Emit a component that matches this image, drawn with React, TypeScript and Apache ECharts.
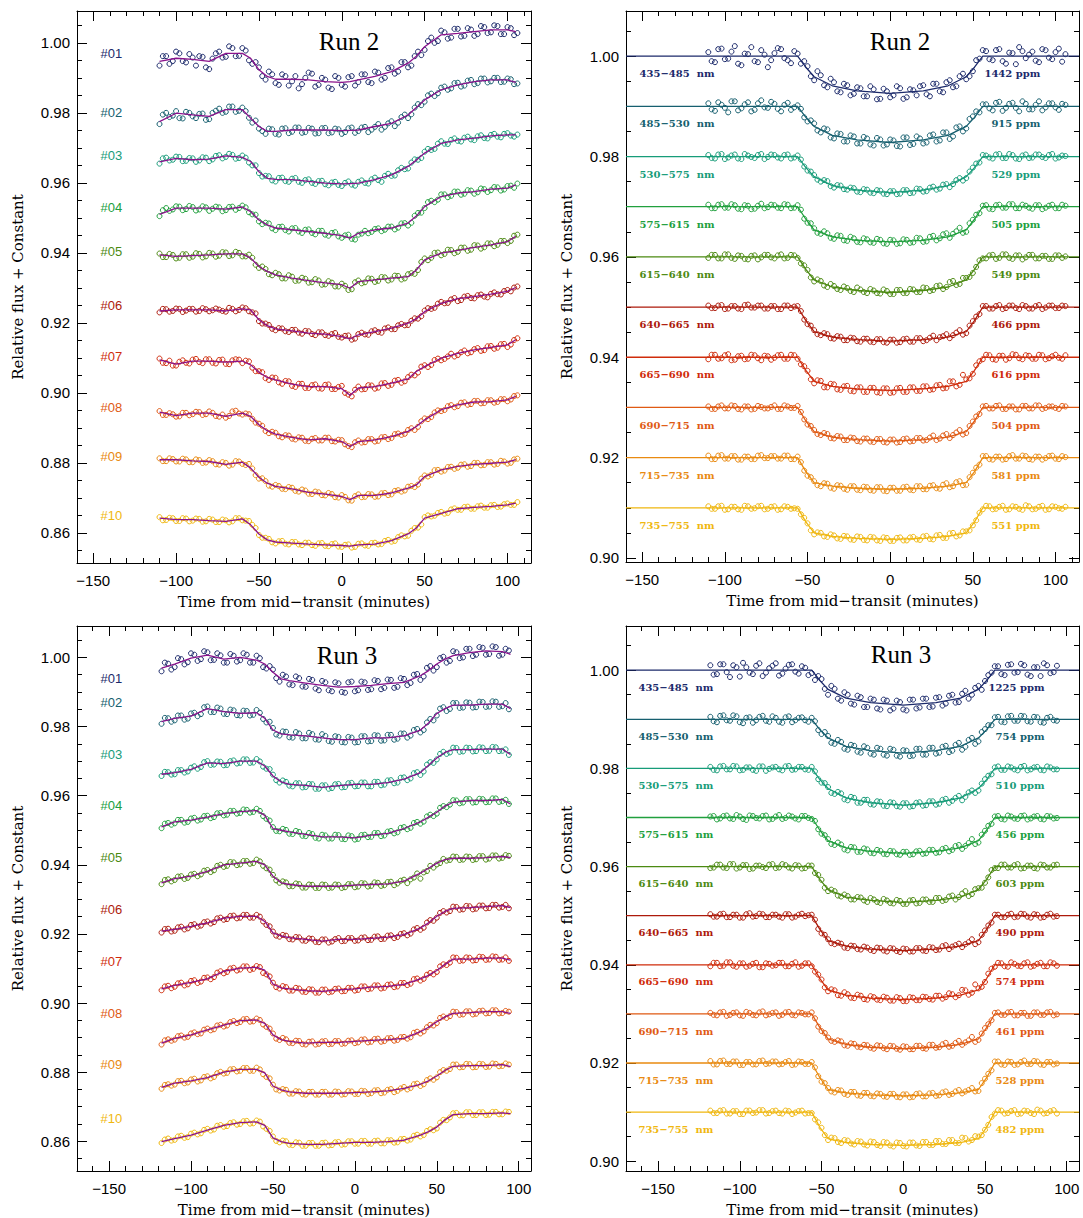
import React, { useEffect, useRef } from "react";
import * as echarts from "echarts";

// ---------- colours & labels ----------
const COLORS = ["#1c2a6b", "#165f6f", "#179c79", "#21a03e", "#4c8a12", "#ad1a0b", "#d02c0b", "#e05a13", "#e98a11", "#f0b70f"];
const PURPLE = "#8a128c";
const CURVE_NAMES = ["#01", "#02", "#03", "#04", "#05", "#06", "#07", "#08", "#09", "#10"];
const WAVE_BINS = ["435\u2212485  nm", "485\u2212530  nm", "530\u2212575  nm", "575\u2212615  nm", "615\u2212640  nm", "640\u2212665  nm", "665\u2212690  nm", "690\u2212715  nm", "715\u2212735  nm", "735\u2212755  nm"];
const PPM_RUN2 = [1442, 915, 529, 505, 549, 466, 616, 504, 581, 551];
const PPM_RUN3 = [1225, 754, 510, 456, 603, 490, 574, 461, 528, 482];
const BASELINES = [1.0, 0.99, 0.98, 0.97, 0.96, 0.95, 0.94, 0.93, 0.92, 0.91];

// ---------- ticks ----------
const X_MAJOR = [-150, -100, -50, 0, 50, 100];
const X_MINOR = [-160, -150, -140, -130, -120, -110, -100, -90, -80, -70, -60, -50, -40, -30, -20, -10, 0, 10, 20, 30, 40, 50, 60, 70, 80, 90, 100, 110];
const Y_MAJOR_LEFT = [0.86, 0.88, 0.9, 0.92, 0.94, 0.96, 0.98, 1.0];
const Y_MINOR_LEFT = [0.855, 0.86, 0.865, 0.87, 0.875, 0.88, 0.885, 0.89, 0.895, 0.9, 0.905, 0.91, 0.915, 0.92, 0.925, 0.93, 0.935, 0.94, 0.945, 0.95, 0.955, 0.96, 0.965, 0.97, 0.975, 0.98, 0.985, 0.99, 0.995, 1.0, 1.005];
const Y_MAJOR_RIGHT = [0.9, 0.92, 0.94, 0.96, 0.98, 1.0];
const Y_MINOR_RIGHT = [0.9, 0.905, 0.91, 0.915, 0.92, 0.925, 0.93, 0.935, 0.94, 0.945, 0.95, 0.955, 0.96, 0.965, 0.97, 0.975, 0.98, 0.985, 0.99, 0.995, 1.0, 1.005];

// ---------- time grids (minutes from mid-transit) ----------
const T_RUN2 = [-110, -106, -102, -98, -94, -90, -86, -82, -78, -74, -70, -66, -62, -58, -54, -50, -46, -42, -38, -34, -30, -26, -22, -18, -14, -10, -6, -2, 2, 6, 10, 14, 18, 22, 26, 30, 34, 38, 42, 46, 50, 54, 58, 62, 66, 70, 74, 78, 82, 86, 90, 94, 98, 102, 106];
const T_RUN2_B = [-108, -104, -100, -96, -92, -88, -84, -80, -76, -72, -68, -64, -60, -56, -52, -48, -44, -40, -36, -32, -28, -24, -20, -16, -12, -8, -4, 0, 4, 8, 12, 16, 20, 24, 28, 32, 36, 40, 44, 48, 52, 56, 60, 64, 68, 72, 76, 80, 84, 88, 92, 96, 100, 104];
const T_RUN3 = [-118, -114, -110, -106, -102, -98, -94, -90, -86, -82, -78, -74, -70, -66, -62, -58, -54, -50, -46, -42, -38, -34, -30, -26, -22, -18, -14, -10, -6, -2, 2, 6, 10, 14, 18, 22, 26, 30, 34, 38, 42, 46, 50, 54, 58, 62, 66, 70, 74, 78, 82, 86, 90, 94];
const T_RUN3_B = [-116, -112, -108, -104, -100, -96, -92, -88, -84, -80, -76, -72, -68, -64, -60, -56, -52, -48, -44, -40, -36, -32, -28, -24, -20, -16, -12, -8, -4, 0, 4, 8, 12, 16, 20, 24, 28, 32, 36, 40, 44, 48, 52, 56, 60, 64, 68, 72, 76, 80, 84, 88, 92];
const T_MODEL_RUN2_LEFT = [-110, -100, -90, -80, -70, -60, -55, -50, -45, -40, -30, -20, -10, 0, 5, 10, 20, 30, 40, 45, 50, 60, 70, 80, 90, 100, 105];
const T_MODEL_RUN3_LEFT = [-118, -110, -100, -90, -80, -70, -60, -55, -50, -45, -40, -30, -20, -10, 0, 10, 20, 30, 40, 45, 50, 55, 60, 70, 80, 90, 95];
const T_MODEL_RUN2_RIGHT = [-159.8, -56, -51, -46, -35, -20, 0, 20, 35, 46, 51, 56, 114.2];
const T_MODEL_RUN3_RIGHT = [-169.6, -56, -51, -46, -35, -20, 0, 20, 35, 46, 51, 56, 107.5];

// ---------- Run 2, raw light curves (flux x 1e4), on T_RUN2 ----------
const RUN2_RAW = [
  [9935, 9962, 9948, 9970, 9944, 9958, 9962, 9930, 9955, 9975, 9960, 9985, 9963, 9978, 9940, 9930, 9895, 9910, 9880, 9905, 9890, 9870, 9900, 9912, 9880, 9895, 9868, 9900, 9875, 9905, 9888, 9910, 9885, 9915, 9900, 9930, 9918, 9945, 9935, 9975, 9980, 10015, 10005, 10030, 10015, 10040, 10020, 10038, 10025, 10045, 10030, 10048, 10025, 10042, 10028],
  [9768, 9800, 9792, 9785, 9803, 9790, 9797, 9780, 9800, 9812, 9803, 9818, 9806, 9805, 9772, 9755, 9740, 9753, 9738, 9756, 9746, 9758, 9745, 9755, 9742, 9757, 9744, 9753, 9745, 9758, 9748, 9760, 9752, 9768, 9760, 9776, 9772, 9795, 9796, 9825, 9832, 9855, 9856, 9875, 9870, 9886, 9878, 9894, 9885, 9898, 9890, 9900, 9889, 9896, 9884],
  [9655, 9672, 9666, 9674, 9663, 9670, 9664, 9672, 9667, 9679, 9674, 9680, 9671, 9672, 9650, 9628, 9620, 9607, 9614, 9605, 9612, 9603, 9608, 9600, 9605, 9596, 9601, 9594, 9600, 9595, 9603, 9600, 9610, 9608, 9620, 9620, 9636, 9639, 9658, 9666, 9689, 9694, 9712, 9712, 9723, 9720, 9729, 9724, 9733, 9728, 9737, 9732, 9740, 9735, 9738],
  [9505, 9528, 9524, 9532, 9525, 9531, 9524, 9530, 9526, 9530, 9522, 9532, 9528, 9530, 9510, 9490, 9486, 9470, 9474, 9465, 9470, 9461, 9466, 9457, 9463, 9452, 9457, 9447, 9450, 9440, 9452, 9463, 9460, 9470, 9466, 9475, 9472, 9485, 9486, 9514, 9528, 9549, 9552, 9567, 9563, 9575, 9569, 9578, 9573, 9582, 9579, 9587, 9581, 9592, 9598],
  [9398, 9388, 9394, 9386, 9396, 9389, 9397, 9390, 9398, 9392, 9401, 9393, 9400, 9390, 9386, 9357, 9354, 9336, 9339, 9327, 9332, 9321, 9326, 9316, 9321, 9310, 9315, 9304, 9306, 9296, 9321, 9316, 9326, 9320, 9330, 9324, 9334, 9327, 9342, 9351, 9384, 9386, 9401, 9397, 9408, 9403, 9415, 9409, 9421, 9416, 9427, 9423, 9434, 9434, 9452],
  [9230, 9239, 9234, 9240, 9235, 9240, 9234, 9239, 9236, 9238, 9232, 9240, 9237, 9242, 9230, 9205, 9198, 9183, 9185, 9176, 9180, 9172, 9177, 9168, 9173, 9165, 9168, 9160, 9163, 9152, 9168, 9167, 9176, 9174, 9184, 9182, 9193, 9193, 9206, 9212, 9235, 9240, 9255, 9256, 9267, 9262, 9275, 9271, 9279, 9275, 9283, 9282, 9291, 9290, 9304],
  [9098, 9085, 9078, 9089, 9086, 9095, 9088, 9096, 9086, 9094, 9083, 9093, 9095, 9092, 9072, 9062, 9042, 9044, 9030, 9034, 9020, 9026, 9014, 9022, 9013, 9023, 9011, 9017, 9000, 8990, 9018, 9011, 9021, 9015, 9028, 9023, 9037, 9033, 9052, 9058, 9079, 9080, 9098, 9097, 9112, 9108, 9121, 9116, 9128, 9122, 9134, 9129, 9140, 9138, 9156],
  [8948, 8937, 8939, 8933, 8943, 8939, 8945, 8939, 8943, 8932, 8929, 8947, 8941, 8941, 8926, 8912, 8891, 8889, 8876, 8879, 8869, 8873, 8863, 8869, 8864, 8872, 8862, 8866, 8853, 8845, 8864, 8859, 8868, 8863, 8874, 8871, 8884, 8883, 8899, 8903, 8927, 8931, 8950, 8951, 8965, 8962, 8973, 8968, 8977, 8971, 8979, 8974, 8982, 8981, 8993],
  [8813, 8805, 8811, 8804, 8810, 8802, 8808, 8801, 8805, 8795, 8800, 8795, 8804, 8794, 8784, 8755, 8748, 8732, 8734, 8725, 8729, 8718, 8721, 8711, 8716, 8707, 8711, 8701, 8703, 8692, 8710, 8703, 8710, 8704, 8714, 8710, 8722, 8721, 8734, 8738, 8764, 8766, 8780, 8778, 8789, 8786, 8796, 8791, 8800, 8794, 8802, 8797, 8804, 8800, 8812],
  [8645, 8637, 8642, 8634, 8641, 8635, 8640, 8633, 8638, 8631, 8636, 8633, 8642, 8635, 8623, 8594, 8586, 8573, 8576, 8569, 8574, 8567, 8572, 8565, 8570, 8563, 8568, 8561, 8566, 8558, 8569, 8564, 8571, 8567, 8577, 8575, 8588, 8590, 8606, 8615, 8645, 8647, 8657, 8655, 8667, 8666, 8674, 8669, 8676, 8672, 8679, 8674, 8682, 8680, 8688],
];
// same curves, exposures on T_RUN2_B
const RUN2_RAW_B = [
  [9962, 9940, 9975, 9948, 9968, 9935, 9960, 9925, 9970, 9958, 9990, 9962, 9985, 9950, 9945, 9905, 9918, 9885, 9910, 9878, 9905, 9882, 9915, 9875, 9900, 9872, 9905, 9880, 9902, 9878, 9910, 9888, 9918, 9895, 9928, 9912, 9945, 9930, 9962, 9965, 10005, 10000, 10035, 10012, 10040, 10018, 10042, 10020, 10048, 10028, 10050, 10025, 10045, 10022],
  [9795, 9788, 9805, 9784, 9800, 9785, 9798, 9782, 9806, 9800, 9818, 9803, 9815, 9786, 9778, 9748, 9755, 9740, 9755, 9742, 9758, 9743, 9757, 9741, 9756, 9742, 9755, 9740, 9756, 9743, 9758, 9745, 9760, 9752, 9770, 9762, 9788, 9785, 9815, 9822, 9850, 9848, 9872, 9866, 9885, 9875, 9892, 9882, 9898, 9887, 9900, 9888, 9898, 9882],
  [9670, 9664, 9675, 9662, 9671, 9660, 9673, 9662, 9677, 9670, 9683, 9669, 9678, 9658, 9650, 9618, 9619, 9604, 9615, 9603, 9614, 9600, 9610, 9597, 9606, 9593, 9603, 9591, 9604, 9592, 9607, 9598, 9615, 9603, 9626, 9621, 9643, 9641, 9667, 9671, 9697, 9697, 9719, 9711, 9727, 9718, 9732, 9722, 9736, 9727, 9740, 9730, 9742, 9732],
  [9522, 9520, 9533, 9522, 9534, 9521, 9533, 9520, 9532, 9519, 9531, 9523, 9535, 9516, 9509, 9482, 9484, 9465, 9475, 9461, 9471, 9457, 9467, 9453, 9463, 9449, 9459, 9443, 9452, 9438, 9455, 9456, 9468, 9462, 9475, 9467, 9484, 9478, 9506, 9515, 9545, 9545, 9567, 9559, 9575, 9566, 9579, 9569, 9584, 9574, 9588, 9578, 9591, 9586],
  [9388, 9397, 9384, 9396, 9386, 9399, 9387, 9400, 9389, 9402, 9391, 9403, 9390, 9395, 9366, 9361, 9339, 9343, 9327, 9336, 9320, 9329, 9315, 9325, 9309, 9319, 9304, 9312, 9294, 9316, 9313, 9327, 9317, 9331, 9321, 9335, 9324, 9339, 9340, 9374, 9379, 9400, 9393, 9409, 9399, 9415, 9406, 9422, 9412, 9427, 9419, 9434, 9428, 9449],
  [9240, 9232, 9241, 9231, 9240, 9232, 9242, 9233, 9241, 9234, 9243, 9233, 9244, 9233, 9227, 9198, 9194, 9179, 9184, 9174, 9180, 9169, 9176, 9165, 9173, 9163, 9171, 9158, 9164, 9155, 9172, 9166, 9179, 9172, 9187, 9182, 9197, 9194, 9213, 9219, 9242, 9243, 9260, 9257, 9271, 9265, 9277, 9270, 9281, 9273, 9287, 9281, 9294, 9301],
  [9086, 9092, 9078, 9093, 9084, 9097, 9085, 9096, 9084, 9095, 9082, 9096, 9085, 9090, 9062, 9059, 9037, 9043, 9026, 9033, 9017, 9026, 9014, 9024, 9012, 9024, 9011, 9020, 8995, 9009, 9010, 9022, 9012, 9027, 9020, 9035, 9029, 9045, 9050, 9075, 9074, 9094, 9093, 9104, 9104, 9116, 9113, 9125, 9120, 9133, 9126, 9139, 9131, 9151],
  [8937, 8942, 8932, 8943, 8936, 8946, 8937, 8947, 8934, 8938, 8934, 8949, 8938, 8939, 8915, 8906, 8885, 8886, 8873, 8878, 8867, 8872, 8862, 8871, 8864, 8872, 8861, 8865, 8848, 8859, 8858, 8868, 8861, 8873, 8868, 8882, 8880, 8894, 8894, 8919, 8925, 8944, 8948, 8962, 8959, 8972, 8966, 8977, 8970, 8979, 8972, 8982, 8976, 8991],
  [8805, 8813, 8804, 8812, 8802, 8810, 8800, 8808, 8796, 8802, 8792, 8805, 8797, 8797, 8765, 8756, 8735, 8737, 8726, 8731, 8720, 8724, 8712, 8718, 8708, 8714, 8702, 8708, 8693, 8705, 8702, 8711, 8703, 8713, 8708, 8720, 8718, 8732, 8731, 8755, 8761, 8779, 8775, 8788, 8783, 8795, 8789, 8800, 8793, 8802, 8795, 8806, 8798, 8810],
  [8636, 8643, 8634, 8642, 8633, 8641, 8632, 8640, 8631, 8638, 8630, 8642, 8636, 8634, 8614, 8586, 8583, 8570, 8577, 8567, 8574, 8565, 8572, 8563, 8571, 8562, 8570, 8560, 8567, 8560, 8570, 8563, 8572, 8568, 8580, 8577, 8593, 8592, 8614, 8624, 8650, 8649, 8660, 8657, 8670, 8666, 8675, 8669, 8678, 8672, 8680, 8675, 8684, 8680],
];
// Run 2, systematics + transit model (flux x 1e4), on T_MODEL_RUN2_LEFT
const RUN2_RAW_MODEL = [
  [9947, 9956, 9953, 9947, 9970, 9970, 9956, 9923, 9904, 9896, 9896, 9894, 9889, 9887, 9889, 9894, 9904, 9918, 9942, 9962, 9989, 10023, 10027, 10032, 10037, 10037, 10032],
  [9775, 9799, 9794, 9790, 9809, 9809, 9785, 9761, 9747, 9747, 9751, 9751, 9751, 9749, 9750, 9751, 9761, 9770, 9794, 9815, 9837, 9866, 9880, 9889, 9894, 9894, 9887],
  [9660, 9670, 9666, 9668, 9677, 9673, 9661, 9632, 9613, 9610, 9609, 9604, 9599, 9597, 9598, 9599, 9609, 9623, 9647, 9665, 9685, 9713, 9723, 9728, 9734, 9737, 9737],
  [9510, 9528, 9528, 9528, 9525, 9531, 9518, 9494, 9480, 9471, 9466, 9461, 9456, 9449, 9442, 9456, 9466, 9471, 9485, 9505, 9532, 9561, 9571, 9575, 9582, 9585, 9594],
  [9394, 9390, 9392, 9394, 9397, 9397, 9385, 9361, 9347, 9337, 9328, 9321, 9314, 9309, 9299, 9318, 9323, 9328, 9332, 9351, 9380, 9399, 9407, 9416, 9423, 9432, 9447],
  [9234, 9237, 9237, 9237, 9234, 9240, 9237, 9209, 9192, 9183, 9177, 9171, 9168, 9161, 9154, 9166, 9175, 9185, 9199, 9212, 9232, 9256, 9269, 9275, 9282, 9290, 9301],
  [9094, 9082, 9091, 9091, 9088, 9091, 9080, 9059, 9044, 9037, 9025, 9018, 9018, 9012, 8993, 9014, 9018, 9028, 9040, 9061, 9075, 9099, 9113, 9123, 9130, 9137, 9152],
  [8945, 8935, 8942, 8942, 8933, 8942, 8933, 8909, 8892, 8882, 8873, 8866, 8869, 8861, 8847, 8861, 8866, 8875, 8890, 8904, 8923, 8952, 8966, 8974, 8975, 8980, 8990],
  [8809, 8809, 8806, 8804, 8796, 8802, 8785, 8759, 8742, 8733, 8726, 8716, 8711, 8704, 8695, 8707, 8707, 8714, 8728, 8737, 8761, 8780, 8790, 8796, 8799, 8802, 8809],
  [8642, 8638, 8638, 8635, 8633, 8640, 8623, 8597, 8580, 8574, 8571, 8568, 8566, 8564, 8562, 8566, 8568, 8578, 8597, 8614, 8642, 8656, 8669, 8673, 8676, 8680, 8685],
];
// Run 2, detrended light curves: offset from the constant (x 1e4)
const RUN2_DETRENDED = [
  [8, -12, 15, -5, 20, -18, 4, -10, 12, -22, 6, 14, -8, 10, -15, -20, -48, -38, -62, -52, -72, -58, -75, -64, -80, -66, -85, -70, -78, -64, -82, -68, -60, -76, -55, -70, -52, -62, -40, -46, -30, -5, 10, -8, 14, -15, 6, 18, -4, 9, -12, 12, -6, 15, 4],
  [6, -9, 3, -12, 10, -4, 8, -7, 12, -3, 5, -10, 7, -2, -5, -30, -34, -52, -46, -64, -55, -70, -60, -74, -64, -78, -66, -76, -68, -80, -62, -75, -64, -72, -56, -68, -52, -60, -40, -44, -20, -12, 4, -8, 9, -3, 7, -10, 5, -6, 10, -2, 6, -7, 3],
  [3, -4, 5, -2, 4, -5, 2, -3, 5, -1, 3, -4, 4, -2, -6, -28, -37, -50, -49, -62, -58, -66, -63, -71, -66, -73, -68, -75, -69, -74, -67, -72, -65, -69, -60, -64, -55, -55, -43, -43, -22, -12, 2, -4, 5, -3, 3, -5, 4, -2, 4, -3, 5, -2, 1],
  [4, -3, 5, -2, 3, -5, 2, -4, 6, -1, 3, -3, 4, -2, -6, -32, -43, -54, -53, -64, -58, -68, -63, -71, -65, -72, -66, -74, -67, -73, -66, -71, -63, -69, -58, -63, -53, -54, -42, -50, -26, -13, 3, -5, 4, -2, 5, -3, 2, -4, 3, -2, 4, -3, 2],
  [-2, 4, -3, 5, -4, 2, -5, 3, -1, 4, -3, 5, -2, 3, -13, -26, -49, -48, -60, -58, -66, -62, -70, -65, -72, -67, -73, -68, -74, -66, -72, -65, -70, -62, -66, -57, -60, -48, -54, -42, -32, -7, -3, 4, -2, 5, -4, 3, -1, 4, -3, 2, -4, 3, 1],
  [3, -2, 4, -3, 2, -4, 5, -1, 3, -3, 2, -4, 3, 1, -8, -34, -46, -56, -54, -63, -59, -66, -62, -69, -63, -70, -64, -71, -65, -70, -63, -69, -62, -66, -57, -60, -54, -56, -46, -52, -28, -14, 2, -3, 4, -2, 3, -4, 2, -3, 4, -1, 3, -2, 2],
  [-4, 5, -2, 6, -5, 3, -3, 4, -6, 2, -1, 5, -3, 4, -14, -27, -52, -47, -60, -54, -65, -57, -68, -60, -69, -61, -71, -62, -70, -61, -69, -60, -67, -58, -64, -55, -61, -48, -55, -44, -33, -8, 5, -4, 3, -5, 6, -2, 4, -3, 5, -4, 2, -1, 4],
  [2, -3, 4, -2, 3, -4, 2, -3, 1, -2, 4, -3, 2, -1, -9, -34, -45, -55, -53, -62, -58, -65, -61, -68, -62, -69, -63, -70, -64, -69, -62, -67, -61, -65, -56, -62, -53, -55, -45, -51, -28, -13, 3, -2, 4, -3, 2, -4, 3, -2, 4, -1, 2, -3, 2],
  [4, -3, 5, -2, 3, -4, 2, -3, 5, -1, 3, -2, 4, -3, -9, -36, -47, -57, -52, -62, -56, -64, -57, -65, -59, -66, -59, -67, -60, -66, -58, -65, -57, -63, -55, -62, -51, -57, -47, -54, -30, -14, 3, -4, 2, -3, 5, -2, 3, -4, 2, -1, 4, -3, 1],
  [3, -2, 4, -3, 2, -4, 3, -1, 4, -2, 3, -3, 2, -1, -13, -31, -53, -50, -58, -55, -62, -57, -64, -58, -65, -59, -66, -60, -66, -59, -65, -58, -64, -56, -63, -54, -60, -50, -55, -47, -35, -10, 4, -3, 2, -4, 3, -2, 5, -3, 2, -4, 3, -1, 2],
];
const RUN2_DETRENDED_B = [
  [-10, 14, -6, 9, -15, 5, 18, -12, 3, -8, 16, -4, -14, 5, -10, -40, -30, -58, -45, -70, -55, -78, -62, -80, -60, -86, -65, -82, -60, -85, -66, -78, -58, -80, -55, -72, -48, -60, -35, -40, -8, 12, -6, 12, -10, 7, -16, 10, 3, -9, 14, -3, 8, -11],
  [-6, 8, -3, 10, -8, 4, -10, 6, -2, 9, -5, 3, -7, 2, -22, -28, -48, -44, -62, -54, -70, -58, -74, -61, -76, -63, -78, -66, -79, -62, -77, -60, -74, -58, -70, -52, -65, -42, -50, -25, -10, 4, -4, 7, -9, 5, -3, 10, -6, 3, -8, 6, -2, 5],
  [-3, 4, -5, 2, -4, 5, -1, 3, -5, 4, -2, 3, -4, 2, -20, -30, -46, -47, -59, -57, -65, -62, -70, -65, -72, -67, -74, -69, -75, -67, -73, -64, -70, -62, -66, -56, -61, -47, -48, -30, -14, 3, -2, 4, -3, 5, -4, 2, -3, 4, -1, 3, -4, 2],
  [-3, 4, -2, 5, -4, 3, -5, 2, -3, 4, -2, 5, -3, 3, -24, -33, -52, -49, -62, -57, -67, -60, -70, -63, -71, -64, -73, -66, -74, -65, -72, -62, -70, -60, -67, -55, -62, -49, -52, -33, -16, 2, -4, 3, -2, 5, -3, 4, -2, 3, -5, 2, -3, 4],
  [4, -3, 5, -2, 3, -4, 2, -5, 4, -1, 3, -3, 4, -2, -17, -41, -45, -57, -54, -64, -59, -68, -61, -70, -64, -72, -65, -74, -66, -72, -64, -70, -61, -68, -58, -64, -50, -56, -42, -40, -20, -3, 3, -4, 5, -2, 3, -5, 4, -3, 2, -4, 3, -2],
  [-2, 3, -4, 2, -3, 4, -1, 3, -3, 2, -4, 3, -2, 2, -25, -37, -54, -52, -62, -58, -66, -61, -68, -63, -69, -64, -70, -65, -71, -64, -69, -62, -68, -61, -66, -58, -62, -51, -55, -37, -19, 2, -3, 2, -4, 3, -2, 4, -3, 2, -4, 3, -2, 3],
  [5, -3, 4, -6, 2, -4, 5, -2, 3, -5, 4, -3, 5, -3, -18, -44, -46, -60, -53, -64, -58, -67, -60, -69, -61, -70, -62, -71, -62, -69, -60, -67, -58, -65, -56, -62, -48, -58, -35, -42, -16, -4, 4, -5, 3, -2, 5, -4, 3, -3, 4, -2, 5, -3],
  [-3, 2, -2, 4, -3, 2, -4, 3, -2, 1, -3, 4, -1, 3, -24, -37, -53, -51, -61, -57, -65, -60, -67, -62, -68, -63, -69, -64, -70, -63, -68, -61, -66, -60, -65, -56, -61, -50, -54, -37, -18, 2, -2, 3, -3, 2, -4, 3, -2, 4, -3, 2, -1, 3],
  [-3, 4, -2, 3, -4, 2, -3, 4, -1, 3, -2, 4, -3, 2, -26, -39, -55, -51, -60, -55, -62, -57, -64, -58, -65, -59, -66, -60, -66, -59, -64, -57, -63, -56, -61, -54, -59, -49, -55, -39, -20, 3, -3, 2, -4, 3, -2, 4, -3, 2, -4, 3, -2, 3],
  [-2, 3, -4, 2, -3, 4, -2, 3, -3, 2, -4, 3, -2, -2, -20, -45, -49, -57, -53, -61, -56, -63, -57, -64, -58, -65, -59, -66, -60, -65, -59, -63, -57, -62, -55, -60, -51, -57, -47, -45, -25, -3, 3, -2, 4, -3, 2, -4, 3, -2, 4, -3, 2, -2],
];
const RUN2_TRANSIT_MODEL = [
  [0, 0, -22, -41, -59, -69, -74, -69, -59, -41, -22, 0, 0],
  [0, 0, -22, -40, -58, -67, -72, -67, -58, -40, -22, 0, 0],
  [0, 0, -22, -40, -58, -67, -72, -67, -58, -40, -22, 0, 0],
  [0, 0, -25, -46, -60, -67, -70, -67, -60, -46, -25, 0, 0],
  [0, 0, -25, -46, -60, -67, -71, -67, -60, -46, -25, 0, 0],
  [0, 0, -27, -49, -60, -65, -68, -65, -60, -49, -27, 0, 0],
  [0, 0, -26, -48, -58, -63, -66, -63, -58, -48, -26, 0, 0],
  [0, 0, -27, -48, -59, -64, -67, -64, -59, -48, -27, 0, 0],
  [0, 0, -28, -50, -57, -61, -63, -61, -57, -50, -28, 0, 0],
  [0, 0, -28, -50, -57, -61, -63, -61, -57, -50, -28, 0, 0],
];

// ---------- Run 3 ----------
const RUN3_RAW = [
  [9960, 9982, 9972, 9995, 9986, 10008, 9995, 10015, 9993, 10006, 9985, 10005, 9992, 10008, 9985, 9998, 9968, 9965, 9930, 9945, 9920, 9940, 9915, 9935, 9905, 9928, 9902, 9925, 9898, 9930, 9905, 9928, 9908, 9932, 9912, 9935, 9915, 9938, 9926, 9952, 9945, 9975, 9972, 10002, 9990, 10015, 10000, 10025, 10008, 10028, 10010, 10030, 10008, 10020],
  [9808, 9824, 9818, 9832, 9823, 9840, 9836, 9858, 9842, 9852, 9836, 9847, 9832, 9845, 9834, 9840, 9812, 9796, 9774, 9785, 9768, 9780, 9766, 9778, 9762, 9773, 9756, 9770, 9754, 9768, 9755, 9772, 9758, 9774, 9760, 9776, 9765, 9780, 9774, 9793, 9790, 9822, 9832, 9856, 9851, 9868, 9855, 9869, 9856, 9871, 9858, 9872, 9859, 9850],
  [9657, 9668, 9662, 9674, 9670, 9685, 9683, 9700, 9690, 9698, 9689, 9702, 9695, 9705, 9696, 9699, 9678, 9661, 9638, 9640, 9627, 9636, 9625, 9633, 9620, 9630, 9622, 9634, 9625, 9637, 9628, 9638, 9627, 9640, 9632, 9645, 9638, 9653, 9650, 9668, 9670, 9697, 9705, 9727, 9725, 9738, 9728, 9738, 9729, 9739, 9730, 9740, 9730, 9718],
  [9506, 9521, 9520, 9530, 9524, 9536, 9531, 9542, 9538, 9550, 9545, 9556, 9550, 9559, 9553, 9556, 9533, 9509, 9497, 9501, 9489, 9495, 9483, 9489, 9476, 9485, 9476, 9486, 9474, 9483, 9475, 9487, 9481, 9492, 9485, 9498, 9494, 9509, 9507, 9524, 9525, 9545, 9548, 9570, 9574, 9586, 9580, 9590, 9581, 9590, 9582, 9592, 9584, 9576],
  [9344, 9358, 9356, 9367, 9362, 9374, 9372, 9385, 9384, 9400, 9397, 9407, 9401, 9411, 9405, 9410, 9390, 9371, 9348, 9349, 9338, 9344, 9334, 9342, 9333, 9342, 9334, 9342, 9335, 9344, 9337, 9346, 9339, 9348, 9341, 9351, 9346, 9357, 9358, 9375, 9378, 9397, 9401, 9417, 9414, 9423, 9415, 9423, 9416, 9425, 9418, 9427, 9420, 9426],
  [9204, 9215, 9209, 9221, 9216, 9228, 9224, 9236, 9234, 9247, 9243, 9253, 9247, 9255, 9247, 9250, 9226, 9207, 9192, 9195, 9184, 9190, 9180, 9186, 9176, 9184, 9178, 9188, 9180, 9188, 9181, 9190, 9183, 9193, 9186, 9196, 9191, 9202, 9201, 9217, 9218, 9240, 9247, 9266, 9266, 9278, 9271, 9280, 9273, 9282, 9275, 9284, 9278, 9274],
  [9037, 9050, 9047, 9059, 9054, 9066, 9062, 9074, 9075, 9092, 9090, 9102, 9097, 9106, 9099, 9104, 9083, 9059, 9042, 9046, 9036, 9042, 9032, 9039, 9030, 9039, 9033, 9042, 9035, 9044, 9038, 9048, 9042, 9051, 9044, 9054, 9048, 9058, 9056, 9071, 9070, 9087, 9090, 9112, 9117, 9131, 9123, 9131, 9124, 9133, 9126, 9134, 9126, 9122],
  [8880, 8895, 8894, 8906, 8902, 8915, 8912, 8926, 8924, 8937, 8935, 8948, 8945, 8954, 8947, 8951, 8931, 8912, 8893, 8895, 8884, 8890, 8880, 8889, 8882, 8890, 8882, 8890, 8883, 8892, 8886, 8895, 8888, 8897, 8890, 8899, 8893, 8902, 8901, 8917, 8918, 8937, 8942, 8961, 8962, 8974, 8967, 8976, 8969, 8978, 8971, 8979, 8971, 8975],
  [8752, 8765, 8764, 8775, 8770, 8781, 8776, 8788, 8786, 8801, 8798, 8809, 8804, 8812, 8804, 8808, 8786, 8764, 8747, 8749, 8738, 8744, 8735, 8743, 8735, 8743, 8735, 8743, 8736, 8744, 8737, 8745, 8739, 8748, 8741, 8751, 8746, 8757, 8754, 8767, 8765, 8782, 8785, 8806, 8809, 8822, 8815, 8823, 8815, 8823, 8816, 8824, 8818, 8822],
  [8595, 8608, 8604, 8616, 8612, 8625, 8623, 8636, 8634, 8647, 8644, 8655, 8650, 8659, 8652, 8657, 8636, 8614, 8597, 8600, 8589, 8596, 8587, 8595, 8587, 8596, 8589, 8598, 8591, 8600, 8593, 8601, 8593, 8602, 8594, 8603, 8597, 8607, 8605, 8619, 8618, 8635, 8637, 8662, 8669, 8682, 8675, 8684, 8676, 8684, 8677, 8685, 8678, 8685],
];
const RUN3_RAW_B = [
  [9985, 9965, 9998, 9980, 10012, 9990, 10018, 9992, 10012, 9985, 10010, 9988, 10012, 9985, 10005, 9972, 9975, 9940, 9950, 9922, 9945, 9916, 9938, 9910, 9932, 9905, 9928, 9900, 9928, 9902, 9930, 9906, 9934, 9908, 9936, 9912, 9940, 9920, 9950, 9935, 9970, 9962, 9998, 9985, 10018, 9998, 10025, 10004, 10030, 10008, 10032, 10005, 10025],
  [9825, 9814, 9832, 9820, 9838, 9830, 9856, 9842, 9855, 9837, 9849, 9833, 9846, 9832, 9848, 9822, 9814, 9777, 9786, 9769, 9784, 9766, 9782, 9763, 9778, 9758, 9772, 9755, 9770, 9754, 9772, 9757, 9775, 9759, 9776, 9762, 9780, 9768, 9790, 9783, 9812, 9818, 9852, 9845, 9868, 9854, 9870, 9855, 9872, 9857, 9873, 9857, 9868],
  [9669, 9661, 9674, 9667, 9681, 9678, 9697, 9689, 9699, 9688, 9700, 9693, 9705, 9695, 9706, 9684, 9677, 9645, 9644, 9629, 9636, 9624, 9634, 9620, 9630, 9620, 9633, 9624, 9636, 9627, 9638, 9627, 9640, 9630, 9644, 9636, 9652, 9645, 9665, 9660, 9690, 9695, 9721, 9721, 9739, 9727, 9739, 9728, 9740, 9729, 9741, 9729, 9734],
  [9519, 9516, 9530, 9522, 9534, 9528, 9541, 9535, 9549, 9543, 9556, 9548, 9560, 9551, 9562, 9541, 9528, 9498, 9504, 9490, 9498, 9484, 9492, 9478, 9487, 9476, 9487, 9475, 9485, 9473, 9486, 9480, 9492, 9483, 9496, 9491, 9507, 9503, 9521, 9519, 9540, 9541, 9565, 9567, 9587, 9578, 9590, 9580, 9591, 9581, 9592, 9582, 9588],
  [9356, 9352, 9366, 9359, 9372, 9367, 9383, 9379, 9397, 9394, 9408, 9399, 9411, 9403, 9415, 9397, 9386, 9355, 9352, 9338, 9346, 9334, 9343, 9333, 9343, 9333, 9343, 9333, 9344, 9335, 9347, 9337, 9349, 9339, 9350, 9341, 9354, 9347, 9363, 9360, 9382, 9392, 9405, 9412, 9424, 9414, 9424, 9414, 9425, 9415, 9427, 9418, 9428],
  [9214, 9207, 9219, 9213, 9226, 9221, 9234, 9230, 9245, 9241, 9252, 9245, 9255, 9247, 9255, 9236, 9222, 9195, 9197, 9185, 9191, 9181, 9187, 9177, 9184, 9175, 9185, 9179, 9188, 9180, 9189, 9182, 9192, 9185, 9195, 9188, 9200, 9196, 9213, 9212, 9233, 9238, 9261, 9262, 9279, 9270, 9281, 9271, 9282, 9274, 9284, 9276, 9284],
  [9048, 9043, 9057, 9051, 9064, 9058, 9073, 9069, 9088, 9086, 9100, 9094, 9106, 9096, 9107, 9087, 9077, 9046, 9049, 9036, 9044, 9033, 9040, 9030, 9039, 9031, 9041, 9034, 9044, 9036, 9048, 9040, 9051, 9042, 9053, 9046, 9058, 9052, 9069, 9065, 9082, 9083, 9106, 9110, 9132, 9122, 9132, 9123, 9134, 9125, 9135, 9125, 9132],
  [8892, 8891, 8904, 8900, 8912, 8910, 8923, 8921, 8935, 8932, 8945, 8942, 8953, 8946, 8955, 8938, 8926, 8897, 8899, 8885, 8891, 8881, 8888, 8880, 8889, 8881, 8890, 8882, 8891, 8884, 8894, 8886, 8896, 8888, 8898, 8891, 8901, 8897, 8914, 8912, 8930, 8935, 8957, 8957, 8975, 8966, 8976, 8967, 8977, 8970, 8979, 8970, 8977],
  [8763, 8761, 8774, 8768, 8779, 8773, 8786, 8782, 8797, 8796, 8808, 8802, 8812, 8804, 8813, 8794, 8782, 8750, 8751, 8738, 8745, 8736, 8743, 8735, 8743, 8735, 8744, 8735, 8745, 8737, 8746, 8737, 8747, 8739, 8749, 8742, 8753, 8750, 8765, 8760, 8777, 8778, 8800, 8804, 8822, 8814, 8824, 8814, 8824, 8815, 8825, 8817, 8825],
  [8605, 8602, 8614, 8610, 8622, 8620, 8633, 8631, 8645, 8642, 8653, 8648, 8658, 8651, 8660, 8643, 8630, 8601, 8602, 8590, 8597, 8587, 8595, 8587, 8595, 8588, 8597, 8590, 8600, 8593, 8601, 8593, 8601, 8594, 8603, 8596, 8606, 8602, 8616, 8614, 8630, 8632, 8654, 8661, 8681, 8675, 8684, 8676, 8684, 8676, 8685, 8678, 8686],
];
const RUN3_RAW_MODEL = [
  [9969, 9981, 9998, 10007, 9995, 10000, 9992, 9981, 9957, 9938, 9933, 9926, 9919, 9914, 9916, 9919, 9924, 9928, 9947, 9962, 9981, 9995, 10005, 10014, 10019, 10017, 10009],
  [9814, 9824, 9830, 9852, 9843, 9838, 9840, 9824, 9790, 9779, 9776, 9773, 9767, 9762, 9762, 9767, 9767, 9773, 9790, 9810, 9838, 9852, 9862, 9862, 9865, 9865, 9852],
  [9662, 9667, 9676, 9695, 9693, 9700, 9700, 9686, 9657, 9640, 9633, 9630, 9624, 9629, 9633, 9633, 9638, 9648, 9667, 9688, 9709, 9725, 9733, 9733, 9735, 9735, 9719],
  [9510, 9524, 9529, 9538, 9548, 9554, 9557, 9543, 9505, 9500, 9495, 9488, 9481, 9481, 9478, 9486, 9491, 9505, 9524, 9538, 9552, 9570, 9581, 9586, 9586, 9589, 9576],
  [9348, 9360, 9367, 9381, 9400, 9405, 9410, 9400, 9367, 9348, 9343, 9338, 9338, 9338, 9341, 9343, 9345, 9353, 9376, 9390, 9405, 9415, 9419, 9419, 9421, 9424, 9421],
  [9208, 9213, 9222, 9232, 9246, 9251, 9251, 9236, 9203, 9194, 9189, 9184, 9179, 9184, 9184, 9187, 9191, 9198, 9217, 9232, 9251, 9265, 9274, 9276, 9279, 9282, 9276],
  [9041, 9051, 9060, 9070, 9092, 9101, 9103, 9095, 9055, 9044, 9041, 9036, 9034, 9038, 9041, 9046, 9048, 9054, 9070, 9080, 9094, 9112, 9127, 9127, 9130, 9130, 9124],
  [8884, 8898, 8908, 8922, 8936, 8949, 8951, 8941, 8908, 8894, 8889, 8884, 8886, 8886, 8889, 8892, 8894, 8898, 8917, 8930, 8946, 8960, 8970, 8972, 8975, 8975, 8970],
  [8756, 8768, 8775, 8784, 8800, 8808, 8808, 8798, 8760, 8749, 8743, 8739, 8739, 8739, 8741, 8743, 8746, 8753, 8765, 8775, 8789, 8805, 8817, 8819, 8819, 8822, 8816],
  [8599, 8608, 8618, 8632, 8646, 8654, 8656, 8646, 8610, 8599, 8594, 8591, 8591, 8594, 8597, 8597, 8599, 8603, 8618, 8628, 8641, 8662, 8677, 8680, 8680, 8682, 8680],
];
const RUN3_DETRENDED = [
  [10, -8, 12, -14, 6, 15, -5, 9, -12, 4, 14, -7, 11, -3, 8, -10, -20, -18, -50, -38, -62, -50, -70, -55, -75, -60, -80, -62, -78, -65, -82, -60, -76, -58, -74, -55, -68, -50, -65, -42, -50, -32, -22, -5, 8, -10, 12, -4, 10, -12, 6, 14, -6, 9],
  [5, -6, 8, -3, 6, -8, 4, -2, 7, -5, 3, -7, 6, -2, 4, -5, -4, -30, -34, -50, -46, -62, -54, -68, -58, -72, -60, -74, -62, -76, -64, -74, -60, -72, -58, -68, -54, -64, -48, -56, -38, -45, -20, -12, 5, -6, 7, -3, 6, -5, 4, -7, 5, -3],
  [3, -4, 5, -2, 4, -3, 2, -5, 4, -1, 3, -4, 5, -2, 3, -3, -6, -29, -38, -52, -51, -65, -60, -70, -64, -74, -68, -77, -70, -78, -71, -77, -69, -75, -67, -72, -62, -66, -56, -58, -45, -45, -22, -12, 4, -3, 2, -4, 5, -2, 3, -4, 2, -2],
  [2, -4, 3, -2, 5, -3, 4, -1, 3, -4, 2, -3, 4, -2, 3, -1, -7, -33, -44, -56, -55, -67, -61, -70, -65, -73, -68, -75, -69, -76, -70, -75, -68, -73, -66, -71, -62, -66, -56, -58, -44, -51, -27, -13, 3, -4, 2, -3, 4, -2, 3, -4, 2, -1],
  [-3, 4, -2, 5, -4, 3, -5, 2, -1, 4, -3, 5, -2, 3, -4, 2, -13, -27, -50, -50, -61, -60, -67, -63, -72, -67, -74, -69, -75, -70, -76, -68, -74, -67, -72, -64, -68, -59, -62, -50, -56, -44, -33, -7, -3, 4, -2, 5, -3, 2, -4, 3, -2, 4],
  [3, -2, 4, -3, 2, -4, 5, -1, 3, -3, 2, -4, 3, -2, 4, 1, -8, -36, -48, -58, -57, -66, -62, -69, -65, -72, -66, -73, -67, -74, -68, -73, -66, -72, -65, -69, -60, -63, -57, -58, -48, -54, -30, -14, 2, -3, 4, -2, 3, -4, 2, -3, 4, -1],
  [-3, 4, -2, 5, -4, 3, -2, 4, -5, 2, -1, 4, -3, 5, -2, 3, -14, -30, -54, -52, -63, -60, -68, -63, -71, -66, -72, -67, -73, -68, -74, -67, -72, -66, -71, -63, -66, -60, -62, -52, -57, -48, -35, -8, 4, -3, 5, -2, 3, -4, 2, -3, 5, -2],
  [2, -3, 4, -2, 3, -4, 2, -3, 5, -1, 3, -2, 4, -3, 2, -1, -9, -35, -48, -57, -56, -65, -61, -68, -64, -71, -65, -72, -66, -73, -67, -72, -65, -71, -63, -68, -59, -65, -55, -58, -47, -53, -29, -13, 3, -2, 4, -3, 2, -4, 3, -2, 4, -1],
  [4, -3, 5, -2, 3, -4, 2, -3, 5, -1, 3, -2, 4, -3, 2, -2, -9, -38, -51, -60, -56, -65, -59, -67, -61, -68, -63, -69, -63, -70, -64, -69, -62, -68, -61, -66, -58, -63, -55, -58, -51, -57, -32, -15, 3, -4, 2, -3, 5, -2, 3, -4, 2, -1],
  [3, -2, 4, -3, 2, -4, 3, -1, 4, -2, 3, -3, 2, -1, 3, -2, -15, -32, -57, -53, -63, -58, -66, -60, -68, -61, -69, -62, -70, -63, -70, -62, -69, -61, -67, -59, -65, -57, -63, -53, -57, -50, -36, -10, 4, -3, 2, -4, 3, -2, 5, -3, 2, -3],
];
const RUN3_DETRENDED_B = [
  [-9, 12, -4, 10, -13, 6, -8, 14, -5, 9, -11, 3, 12, -7, 5, -6, -12, -38, -32, -58, -45, -68, -52, -75, -58, -78, -60, -82, -62, -80, -60, -78, -58, -75, -56, -72, -52, -66, -48, -58, -36, -40, -10, 8, -8, 11, -5, 13, -9, 6, -12, 10, -4],
  [-4, 7, -2, 8, -6, 3, -7, 5, -3, 6, -5, 4, -6, 3, -2, 3, -22, -26, -48, -42, -60, -52, -66, -55, -70, -58, -72, -60, -74, -63, -75, -60, -72, -58, -70, -56, -67, -52, -62, -42, -50, -26, -12, 4, -5, 6, -3, 7, -4, 5, -6, 3, -2],
  [-3, 4, -2, 5, -4, 2, -3, 4, -5, 2, -2, 4, -3, 3, -2, 3, -22, -30, -50, -48, -63, -58, -70, -64, -73, -67, -76, -69, -77, -71, -78, -70, -76, -67, -74, -64, -70, -60, -65, -49, -50, -31, -15, 2, -3, 4, -2, 3, -4, 2, -3, 4, -2],
  [3, -2, 4, -3, 2, -5, 3, -2, 4, -3, 5, -1, 2, -4, 3, -3, -24, -36, -54, -51, -65, -60, -70, -63, -72, -66, -74, -68, -75, -70, -76, -69, -74, -66, -72, -64, -69, -58, -64, -52, -54, -35, -17, 2, -3, 4, -2, 3, -4, 2, -3, 3, -2],
  [-2, 4, -3, 5, -2, 3, -4, 2, -3, 5, -2, 3, -4, 2, -3, 2, -17, -43, -47, -59, -57, -67, -62, -69, -64, -72, -66, -74, -68, -76, -69, -75, -67, -72, -64, -70, -61, -67, -55, -60, -46, -43, -22, -3, 4, -2, 3, -4, 2, -3, 4, -2, 3],
  [-2, 3, -3, 2, -4, 3, -2, 4, -3, 2, -2, 3, -4, 2, -1, 2, -27, -39, -56, -55, -65, -61, -68, -63, -70, -65, -71, -66, -72, -67, -73, -66, -71, -64, -70, -62, -68, -60, -64, -54, -58, -39, -20, 2, -3, 2, -3, 4, -2, 3, -4, 2, -2],
  [4, -3, 5, -2, 3, -4, 2, -5, 3, -2, 4, -3, 2, -4, 3, -3, -20, -46, -50, -62, -56, -67, -61, -70, -64, -71, -65, -73, -66, -74, -66, -72, -65, -70, -63, -69, -58, -66, -51, -61, -40, -45, -18, -4, 3, -4, 2, -3, 5, -2, 4, -3, 3],
  [-2, 3, -4, 2, -3, 4, -2, 3, -3, 2, -4, 3, -2, 3, -1, 3, -26, -39, -55, -54, -64, -60, -67, -63, -69, -64, -70, -65, -71, -66, -72, -65, -70, -63, -69, -62, -67, -59, -63, -54, -57, -40, -21, 2, -2, 3, -3, 2, -4, 3, -2, 3, -3],
  [-3, 4, -2, 3, -4, 2, -3, 4, -2, 3, -3, 2, -4, 3, -2, 2, -27, -41, -58, -55, -63, -59, -66, -61, -67, -62, -68, -63, -69, -64, -70, -63, -68, -62, -67, -60, -65, -58, -62, -55, -58, -41, -22, 3, -3, 3, -4, 2, -2, 4, -3, 2, -3],
  [-2, 3, -3, 2, -4, 3, -2, 4, -3, 2, -2, 3, -4, 2, -3, -2, -21, -47, -52, -61, -57, -64, -59, -66, -60, -67, -61, -68, -62, -69, -62, -68, -61, -67, -59, -65, -57, -63, -52, -60, -49, -47, -26, -3, 3, -2, 4, -3, 2, -4, 3, -2, 4],
];
const RUN3_TRANSIT_MODEL = [
  [0, 0, -21, -39, -57, -66, -71, -66, -57, -39, -21, 0, 0],
  [0, 0, -21, -38, -55, -64, -69, -64, -55, -38, -21, 0, 0],
  [0, 0, -23, -41, -60, -70, -75, -70, -60, -41, -23, 0, 0],
  [0, 0, -26, -47, -62, -69, -73, -69, -62, -47, -26, 0, 0],
  [0, 0, -26, -47, -62, -69, -73, -69, -62, -47, -26, 0, 0],
  [0, 0, -28, -51, -62, -68, -71, -68, -62, -51, -28, 0, 0],
  [0, 0, -28, -51, -62, -68, -71, -68, -62, -51, -28, 0, 0],
  [0, 0, -28, -51, -62, -68, -71, -68, -62, -51, -28, 0, 0],
  [0, 0, -30, -54, -61, -65, -67, -65, -61, -54, -30, 0, 0],
  [0, 0, -31, -54, -62, -66, -68, -66, -62, -54, -31, 0, 0],
];

// label anchors (data coordinates) for the curve tags of the left panels
const TAG_Y_RUN2 = [0.9971, 0.98, 0.9677, 0.9531, 0.9403, 0.9249, 0.9103, 0.8957, 0.8817, 0.8651];
const TAG_Y_RUN3 = [0.994, 0.9871, 0.972, 0.9571, 0.942, 0.9271, 0.912, 0.8969, 0.8823, 0.8666];

const SANS = '"Liberation Sans", Arial, sans-serif';
const SERIF = '"DejaVu Serif", serif';

function minusFmt(v: number) {
  return v < 0 ? "\u2212" + Math.abs(v) : String(v);
}

function pairs(t: number[], vals: number[], base: number, scale: number) {
  return vals.map((v, k) => [t[k], base + v / scale]);
}

function buildOption() {
  const panels = [
    { left: 77, top: 11, width: 454, height: 552, xMin: -159.8, xMax: 114.2, yMin: 0.8514, yMax: 1.0091, side: "L", run: 2, title: "Run 2", tx: 349, ty: 41 },
    { left: 626, top: 11, width: 453, height: 551, xMin: -159.8, xMax: 114.2, yMin: 0.8992, yMax: 1.009, side: "R", run: 2, title: "Run 2", tx: 900, ty: 41 },
    { left: 77, top: 626, width: 454, height: 552, xMin: -169.6, xMax: 107.5, yMin: 0.8514, yMax: 1.0091, side: "L", run: 3, title: "Run 3", tx: 347, ty: 655 },
    { left: 626, top: 626, width: 453, height: 552, xMin: -169.6, xMax: 107.5, yMin: 0.898, yMax: 1.009, side: "R", run: 3, title: "Run 3", tx: 901, ty: 654 },
  ];
  const grid: any[] = [];
  const xAxis: any[] = [];
  const yAxis: any[] = [];
  const series: any[] = [];
  const graphic: any[] = [];
  const black = { color: "#000", width: 1 };

  panels.forEach((p, gi) => {
    grid.push({ left: p.left, top: p.top, width: p.width, height: p.height });
    const xb = { type: "value", gridIndex: gi, min: p.xMin, max: p.xMax, splitLine: { show: false } };
    const xi = xAxis.length;
    xAxis.push(
      {
        ...xb, position: "bottom",
        axisLine: { show: true, onZero: false, lineStyle: black },
        axisTick: { show: true, inside: true, length: 10, customValues: X_MAJOR, lineStyle: black },
        axisLabel: { show: true, customValues: X_MAJOR, formatter: minusFmt, color: "#000", fontSize: 15, fontFamily: SANS, margin: 10 },
        name: "Time from mid\u2212transit (minutes)", nameLocation: "middle", nameGap: 31,
        nameTextStyle: { fontFamily: SERIF, fontSize: 15, color: "#000" },
      },
      { ...xb, position: "bottom", axisLine: { show: false, onZero: false }, axisTick: { show: true, inside: true, length: 5, customValues: X_MINOR, lineStyle: black }, axisLabel: { show: false } },
      { ...xb, position: "top", axisLine: { show: true, onZero: false, lineStyle: black }, axisTick: { show: true, inside: true, length: 10, customValues: X_MAJOR, lineStyle: black }, axisLabel: { show: false } },
      { ...xb, position: "top", axisLine: { show: false, onZero: false }, axisTick: { show: true, inside: true, length: 5, customValues: X_MINOR, lineStyle: black }, axisLabel: { show: false } },
    );
    const major = p.side === "L" ? Y_MAJOR_LEFT : Y_MAJOR_RIGHT;
    const minor = p.side === "L" ? Y_MINOR_LEFT : Y_MINOR_RIGHT;
    const yb = { type: "value", gridIndex: gi, min: p.yMin, max: p.yMax, splitLine: { show: false }, scale: true };
    const yi = yAxis.length;
    yAxis.push(
      {
        ...yb, position: "left",
        axisLine: { show: true, onZero: false, lineStyle: black },
        axisTick: { show: true, inside: true, length: 10, customValues: major, lineStyle: black },
        axisLabel: { show: true, customValues: major, formatter: (v: number) => v.toFixed(2), color: "#000", fontSize: 15, fontFamily: SANS, margin: 7 },
        name: "Relative flux + Constant", nameLocation: "middle", nameGap: 52,
        nameTextStyle: { fontFamily: SERIF, fontSize: 15, color: "#000" },
      },
      { ...yb, position: "left", axisLine: { show: false, onZero: false }, axisTick: { show: true, inside: true, length: 5, customValues: minor, lineStyle: black }, axisLabel: { show: false } },
      { ...yb, position: "right", axisLine: { show: true, onZero: false, lineStyle: black }, axisTick: { show: true, inside: true, length: 10, customValues: major, lineStyle: black }, axisLabel: { show: false } },
      { ...yb, position: "right", axisLine: { show: false, onZero: false }, axisTick: { show: true, inside: true, length: 5, customValues: minor, lineStyle: black }, axisLabel: { show: false } },
    );

    const T = p.run === 2 ? T_RUN2 : T_RUN3;
    const TB = p.run === 2 ? T_RUN2_B : T_RUN3_B;
    const pointStyle = (c: string) => ({ color: "rgba(0,0,0,0)", borderColor: c, borderWidth: 1, opacity: 1 });
    if (p.side === "L") {
      const raw = p.run === 2 ? RUN2_RAW : RUN3_RAW;
      const rawB = p.run === 2 ? RUN2_RAW_B : RUN3_RAW_B;
      const model = p.run === 2 ? RUN2_RAW_MODEL : RUN3_RAW_MODEL;
      const TM = p.run === 2 ? T_MODEL_RUN2_LEFT : T_MODEL_RUN3_LEFT;
      raw.forEach((arr, ci) => {
        series.push({
          type: "scatter", xAxisIndex: xi, yAxisIndex: yi, symbol: "circle", symbolSize: 5, silent: true, z: 2,
          itemStyle: pointStyle(COLORS[ci]),
          data: pairs(T, arr, 0, 10000).concat(pairs(TB, rawB[ci], 0, 10000)),
        });
        series.push({
          type: "line", xAxisIndex: xi, yAxisIndex: yi, showSymbol: false, symbol: "none", silent: true, z: 3,
          lineStyle: { color: PURPLE, width: 1.3 },
          data: pairs(TM, model[ci], 0, 10000),
        });
      });
      const tagY = p.run === 2 ? TAG_Y_RUN2 : TAG_Y_RUN3;
      const tagX = p.run === 2 ? -145.9 : -155.6;
      series.push({
        type: "scatter", xAxisIndex: xi, yAxisIndex: yi, symbol: "circle", symbolSize: 1, silent: true, z: 5,
        itemStyle: { color: "rgba(0,0,0,0)", opacity: 1 },
        label: { show: true, position: "right", distance: 0, formatter: "{b}", fontFamily: SANS, fontSize: 13, opacity: 1 },
        data: CURVE_NAMES.map((n, ci) => ({ name: n, value: [tagX, tagY[ci]], label: { color: COLORS[ci] } })),
      });
    } else {
      const det = p.run === 2 ? RUN2_DETRENDED : RUN3_DETRENDED;
      const detB = p.run === 2 ? RUN2_DETRENDED_B : RUN3_DETRENDED_B;
      const tm = p.run === 2 ? RUN2_TRANSIT_MODEL : RUN3_TRANSIT_MODEL;
      const TM = p.run === 2 ? T_MODEL_RUN2_RIGHT : T_MODEL_RUN3_RIGHT;
      det.forEach((arr, ci) => {
        series.push({
          type: "line", xAxisIndex: xi, yAxisIndex: yi, showSymbol: false, symbol: "none", silent: true, z: 2,
          lineStyle: { color: COLORS[ci], width: 1.3 },
          data: pairs(TM, tm[ci], BASELINES[ci], 10000),
        });
        series.push({
          type: "scatter", xAxisIndex: xi, yAxisIndex: yi, symbol: "circle", symbolSize: 5, silent: true, z: 3,
          itemStyle: pointStyle(COLORS[ci]),
          data: pairs(T, arr, BASELINES[ci], 10000).concat(pairs(TB, detB[ci], BASELINES[ci], 10000)),
        });
      });
      const ppm = p.run === 2 ? PPM_RUN2 : PPM_RUN3;
      const waveX = p.run === 2 ? -151.9 : -162.3;
      const ppmX = p.run === 2 ? 91.1 : 86.7;
      const lblStyle = { fontFamily: SERIF, fontSize: 10, fontWeight: "bold", opacity: 1 };
      series.push({
        type: "scatter", xAxisIndex: xi, yAxisIndex: yi, symbol: "circle", symbolSize: 1, silent: true, z: 5,
        itemStyle: { color: "rgba(0,0,0,0)", opacity: 1 },
        label: { show: true, position: "right", distance: 0, formatter: "{b}", ...lblStyle },
        data: WAVE_BINS.map((n, ci) => ({ name: n, value: [waveX, BASELINES[ci] - 0.0035], label: { color: COLORS[ci] } })),
      });
      series.push({
        type: "scatter", xAxisIndex: xi, yAxisIndex: yi, symbol: "circle", symbolSize: 1, silent: true, z: 5,
        itemStyle: { color: "rgba(0,0,0,0)", opacity: 1 },
        label: { show: true, position: "left", distance: 0, formatter: "{b}", ...lblStyle },
        data: ppm.map((n, ci) => ({ name: n + " ppm", value: [ppmX, BASELINES[ci] - 0.0035], label: { color: COLORS[ci] } })),
      });
    }
    graphic.push({
      type: "text", x: p.tx, y: p.ty, z: 10,
      style: { text: p.title, font: '25px "Liberation Serif", serif', fill: "#000", textAlign: "center", textVerticalAlign: "middle" },
    });
  });

  return { animation: false, backgroundColor: "#fff", grid, xAxis, yAxis, series, graphic };
}

export default function App() {
  const ref = useRef<HTMLDivElement>(null);
  useEffect(() => {
    document.body.style.margin = "0";
    if (!ref.current) return;
    const chart = echarts.init(ref.current, null, { renderer: "svg" });
    chart.setOption(buildOption() as any);
    return () => chart.dispose();
  }, []);
  return <div ref={ref} style={{ position: "absolute", left: 0, top: 0, width: 1083, height: 1218 }} />;
}
